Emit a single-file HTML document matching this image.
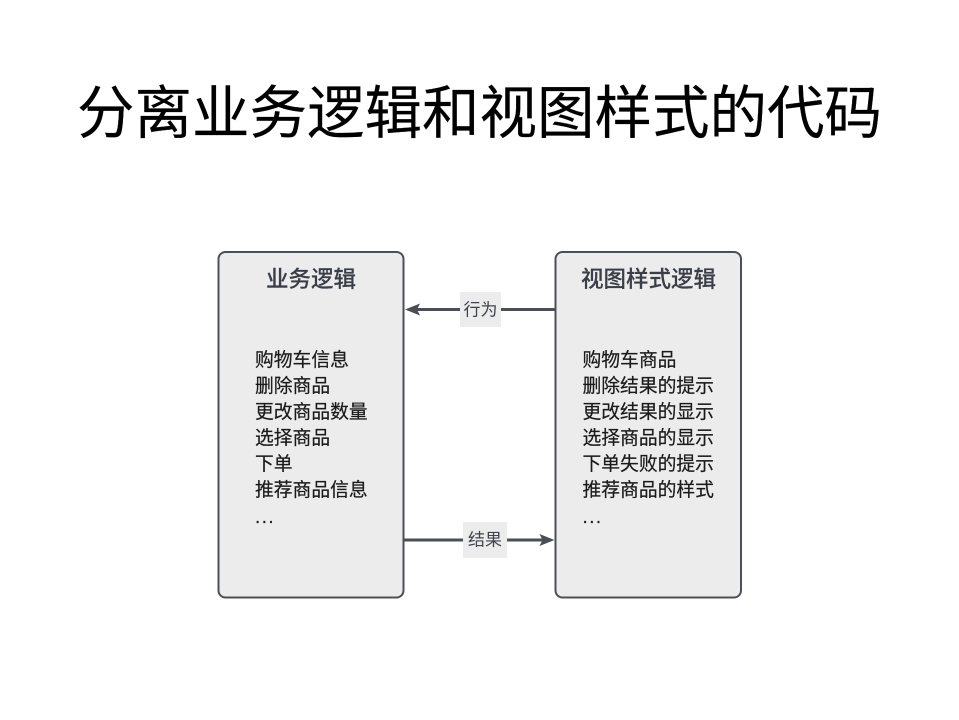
<!DOCTYPE html>
<html lang="zh">
<head>
<meta charset="utf-8">
<style>
html,body{margin:0;padding:0;background:#fff;width:959px;height:720px;overflow:hidden}
svg{display:block}
text{font-family:"Liberation Sans","Noto Sans CJK SC",sans-serif}
</style>
</head>
<body>
<svg width="959" height="720" viewBox="0 0 959 720" xmlns="http://www.w3.org/2000/svg">
<rect width="959" height="720" fill="#fff"/>
<text x="479.500" y="133" font-size="57.500" text-anchor="middle" fill="#000" stroke="#000" stroke-width="0.200">分离业务逻辑和视图样式的代码</text>

<rect x="218.500" y="252" width="185" height="345.500" rx="7" fill="#ececed" stroke="#4b4f58" stroke-width="2"/>
<rect x="555.500" y="252" width="185.500" height="345.500" rx="7" fill="#ececed" stroke="#4b4f58" stroke-width="2"/>

<text x="311" y="287" font-size="22.500" font-weight="500" text-anchor="middle" fill="#3a3e46" stroke="#3a3e46" stroke-width="0.150">业务逻辑</text>
<text x="648.500" y="287" font-size="22.500" font-weight="500" text-anchor="middle" fill="#3a3e46" stroke="#3a3e46" stroke-width="0.150">视图样式逻辑</text>

<g font-size="18.800" fill="#1a1a1a" stroke="#1a1a1a" stroke-width="0.200">
<text x="255" y="366">购物车信息</text>
<text x="255" y="392">删除商品</text>
<text x="255" y="418">更改商品数量</text>
<text x="255" y="444">选择商品</text>
<text x="255" y="470">下单</text>
<text x="255" y="496">推荐商品信息</text>
<text x="255" y="523" letter-spacing="1.500">...</text>
<text x="582.500" y="366">购物车商品</text>
<text x="582.500" y="392">删除结果的提示</text>
<text x="582.500" y="418">更改结果的显示</text>
<text x="582.500" y="444">选择商品的显示</text>
<text x="582.500" y="470">下单失败的提示</text>
<text x="582.500" y="496">推荐商品的样式</text>
<text x="582.500" y="523" letter-spacing="1.500">...</text>
</g>

<line x1="555" y1="309.500" x2="414" y2="309.500" stroke="#4b4e55" stroke-width="3"/>
<path d="M405 309.500L420 303.500L417 309.500L420 315.500Z" fill="#4b4e55"/>
<rect x="460" y="292" width="41" height="35" fill="#ececec"/>
<text x="480.500" y="315.500" font-size="17" text-anchor="middle" fill="#3f434b">行为</text>

<line x1="404" y1="540" x2="545" y2="540" stroke="#4b4e55" stroke-width="3"/>
<path d="M554.500 540L539.500 534L542.500 540L539.500 546Z" fill="#4b4e55"/>
<rect x="463" y="522" width="44" height="36" fill="#ececec"/>
<text x="485" y="545.500" font-size="17" text-anchor="middle" fill="#3f434b">结果</text>
</svg>
</body>
</html>
